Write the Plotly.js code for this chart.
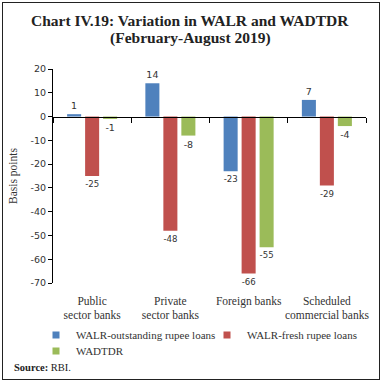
<!DOCTYPE html>
<html><head><meta charset="utf-8">
<script src="https://cdn.plot.ly/plotly-3.0.1.min.js"></script>
<style>
html,body{margin:0;padding:0;background:#fff;}
#wrap{position:relative;width:383px;height:383px;}
#chart{position:absolute;left:0;top:0;width:383px;height:383px;}
#frame{position:absolute;left:2px;top:2px;width:376px;height:376px;border:1.5px solid #222;pointer-events:none;}
</style></head>
<body>
<div id="wrap"><div id="chart"></div><div id="frame"></div></div>
<script>
const categories = ["Public<br>sector banks", "Private<br>sector banks", "Foreign banks", "Scheduled<br>commercial banks"];
const walrOutstanding = [1, 14, -23, 7];
const walrFresh = [-25, -48, -66, -29];
const wadtdr = [-1, -8, -55, -4];
const seriesNames = ["WALR-outstanding rupee loans", "WALR-fresh rupee loans", "WADTDR"];
const colors = ["#4F81BD", "#C0504D", "#9BBB59"];
const yTicks = [20, 10, 0, -10, -20, -30, -40, -50, -60, -70];

const labelFont = {family: "DejaVu Sans", size: 9.5, color: "#333"};
const seriesValues = [walrOutstanding, walrFresh, wadtdr];
const legendIds = ["legend", "legend2", "legend3"];
const data = seriesValues.map((vals, i) => ({
  type: "bar", x: categories, y: vals, name: seriesNames[i],
  marker: {color: colors[i]}, showlegend: false,
  text: vals.map(String), textposition: "outside", textfont: labelFont,
  cliponaxis: false, hoverinfo: "skip"
}));
// legend entries with small square swatches
seriesNames.forEach((nm, i) => data.push({
  type: "scatter", mode: "markers", x: categories, y: categories.map(() => null),
  name: nm, legend: legendIds[i],
  marker: {symbol: "square", size: 7, color: colors[i]}, hoverinfo: "skip"
}));
data.push({type: "bar", x: categories, y: categories.map(() => null), xaxis: "x2", showlegend: false, hoverinfo: "skip"});

const PW = 313, PH = 214;
const titleFont = {family: "Liberation Serif", size: 15.5, color: "#222"};
const legFont = {family: "Liberation Serif", size: 11, color: "#333"};
function leg(xpx, ypx, anchor) {
  return {
    orientation: "h", x: (xpx - 53) / PW, xanchor: anchor,
    y: -(ypx - 283) / PH, yanchor: "middle",
    font: legFont, itemwidth: 30, bgcolor: "rgba(0,0,0,0)"
  };
}
const layout = {
  width: 383, height: 383,
  margin: {l: 53, r: 17, t: 69, b: 100},
  paper_bgcolor: "#fff", plot_bgcolor: "#fff",
  barmode: "group", bargap: 0.31, bargroupgap: 0.22,
  xaxis: {
    type: "category", categoryarray: categories, range: [-0.5, 3.5],
    showline: false, ticks: "", showgrid: false, zeroline: false,
    ticklabelstandoff: 9, tickangle: 0,
    tickfont: {family: "Liberation Serif", size: 11.5, color: "#333"}
  },
  xaxis2: {
    type: "category", categoryarray: categories, range: [-0.5, 3.5],
    overlaying: "x", anchor: "free", position: 70/90,
    showline: true, linecolor: "#000", linewidth: 1,
    ticks: "outside", tickson: "boundaries", ticklen: 5, tickcolor: "#000",
    showticklabels: false, showgrid: false, zeroline: false
  },
  yaxis: {
    range: [-70, 20], tickvals: yTicks, ticktext: yTicks.map(String),
    showline: true, linecolor: "#000", linewidth: 1,
    ticks: "outside", ticklen: 4, tickcolor: "#000",
    showgrid: false, zeroline: false,
    tickfont: {family: "DejaVu Sans", size: 9.5, color: "#333"},
    title: {text: "Basis points", font: {family: "Liberation Serif", size: 11.5, color: "#333"}, standoff: 10}
  },
  showlegend: true,
  legend: leg(36, 335, "left"),
  legend2: leg(362, 335, "right"),
  legend3: leg(36, 351, "left"),
  annotations: [
    {
      text: "<b>Chart IV.19: Variation in WALR and WADTDR</b>",
      xref: "paper", yref: "paper", x: (190 - 53) / PW, xanchor: "center",
      y: 1 + (69 - 21) / PH, yanchor: "middle", showarrow: false, font: titleFont
    },
    {
      text: "<b>(February-August 2019)</b>",
      xref: "paper", yref: "paper", x: (190 - 53) / PW, xanchor: "center",
      y: 1 + (69 - 38) / PH, yanchor: "middle", showarrow: false, font: titleFont
    },
    {
      text: "<b>Source:</b> RBI.", xref: "paper", yref: "paper",
      x: -41/PW, xanchor: "left", y: -84/PH, yanchor: "middle",
      showarrow: false, font: {family: "Liberation Serif", size: 10.5, color: "#222"}
    }
  ]
};
Plotly.newPlot("chart", data, layout, {staticPlot: true});
</script>
</body></html>
